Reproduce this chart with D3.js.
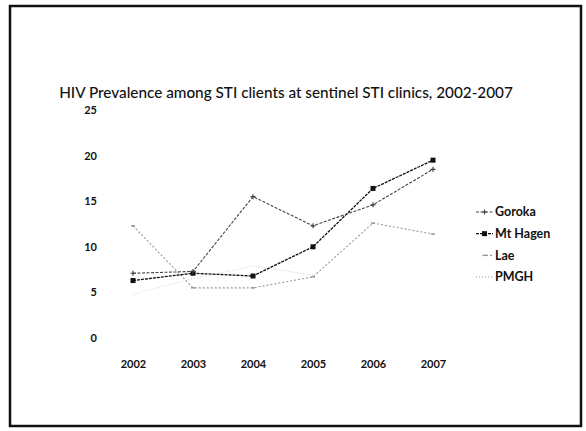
<!DOCTYPE html>
<html>
<head>
<meta charset="utf-8">
<script src="https://cdn.jsdelivr.net/npm/d3@7"></script>
<style>
  body { margin: 0; background: #fff; }
  svg { display: block; }
  text { font-family: Lato, "Open Sans", sans-serif; fill: #111; }
</style>
</head>
<body>
<svg id="chart"></svg>
<script>
const years = ["2002", "2003", "2004", "2005", "2006", "2007"];
const yTicks = [0, 5, 10, 15, 20, 25];
const goroka = [7.1, 7.3, 15.5, 12.3, 14.6, 18.5];
const mtHagen = [6.3, 7.1, 6.8, 10.0, 16.4, 19.5];
const lae = [12.3, 5.5, 5.5, 6.7, 12.6, 11.4];
const pmgh = [4.8, 6.5, 7.9, 6.9];
const seriesNames = ["Goroka", "Mt Hagen", "Lae", "PMGH"];

const width = 586, height = 431;

const svg = d3.select("#chart")
    .attr("width", width)
    .attr("height", height);

// slide frame
svg.append("rect")
    .attr("x", 10).attr("y", 6)
    .attr("width", 571).attr("height", 420)
    .attr("fill", "none")
    .attr("stroke", "#111")
    .attr("stroke-width", 2.5);

svg.append("text")
    .attr("x", 286).attr("y", 98)
    .attr("text-anchor", "middle")
    .attr("font-size", 15.3)
    .attr("font-weight", 500)
    .text("HIV Prevalence among STI clients at sentinel STI clinics, 2002-2007");

const xScale = d3.scalePoint().domain(years).range([133, 433]);
const yScale = d3.scaleLinear().domain([0, 25]).range([338, 110]);

// axes without lines, labels only
const xAxis = svg.append("g")
    .attr("transform", "translate(0, 357)")
    .call(d3.axisBottom(xScale).tickSize(0));
xAxis.select(".domain").remove();
xAxis.selectAll("text")
    .attr("font-size", 11)
    .attr("font-weight", "bold")
    .attr("font-family", "Lato, sans-serif")
    .attr("fill", "#111");

const yAxis = svg.append("g")
    .attr("transform", "translate(100, 0)")
    .call(d3.axisLeft(yScale).tickValues(yTicks).tickSize(0));
yAxis.select(".domain").remove();
yAxis.selectAll("text")
    .attr("font-size", 11)
    .attr("font-weight", "bold")
    .attr("font-family", "Lato, sans-serif")
    .attr("fill", "#111");

const styles = {
    "Goroka":   { values: goroka,  color: "#444", dash: "3,1.5", width: 1.1, marker: "plus" },
    "Mt Hagen": { values: mtHagen, color: "#111", dash: "3,1",   width: 1.3, marker: "square" },
    "Lae":      { values: lae,     color: "#999", dash: "2,2",   width: 1.1, marker: "tick" },
    "PMGH":     { values: pmgh,    color: "#d0d0d0", dash: "1,2", width: 1, marker: "none" }
};

const line = d3.line()
    .x((d, i) => xScale(years[i]))
    .y(d => yScale(d));

function drawMarker(g, kind, x, y, color) {
    if (kind === "square") {
        g.append("rect")
            .attr("x", x - 2.5).attr("y", y - 2.5)
            .attr("width", 5).attr("height", 5)
            .attr("fill", color);
    } else if (kind === "plus") {
        g.append("path")
            .attr("d", `M${x - 2.5},${y}H${x + 2.5}M${x},${y - 2.5}V${y + 2.5}`)
            .attr("stroke", color).attr("stroke-width", 1.2);
    } else if (kind === "tick") {
        g.append("path")
            .attr("d", `M${x - 2},${y}H${x + 2}`)
            .attr("stroke", color).attr("stroke-width", 1.5);
    }
}

const plot = svg.append("g");
seriesNames.slice().reverse().forEach(name => {
    const s = styles[name];
    plot.append("path")
        .datum(s.values)
        .attr("d", line)
        .attr("fill", "none")
        .attr("stroke", s.color)
        .attr("stroke-width", s.width)
        .attr("stroke-dasharray", s.dash);
    s.values.forEach((v, i) => drawMarker(plot, s.marker, xScale(years[i]), yScale(v), s.color));
});

// legend
const legendY = d3.scalePoint().domain(seriesNames).range([212, 277]);
const legend = svg.append("g");
seriesNames.forEach(name => {
    const s = styles[name];
    const y = legendY(name);
    const g = legend.append("g");
    const x0 = name === "Lae" ? 486 : 476;
    g.append("line")
        .attr("x1", x0).attr("x2", 493)
        .attr("y1", y).attr("y2", y)
        .attr("stroke", name === "PMGH" ? "#999" : s.color)
        .attr("stroke-width", s.width)
        .attr("stroke-dasharray", s.dash);
    drawMarker(g, s.marker, 484.5, y, s.color);
    g.append("text")
        .attr("x", 495).attr("y", y)
        .attr("dy", "0.35em")
        .attr("font-size", 12.5)
        .attr("font-weight", "bold")
        .text(name);
});
</script>
</body>
</html>
